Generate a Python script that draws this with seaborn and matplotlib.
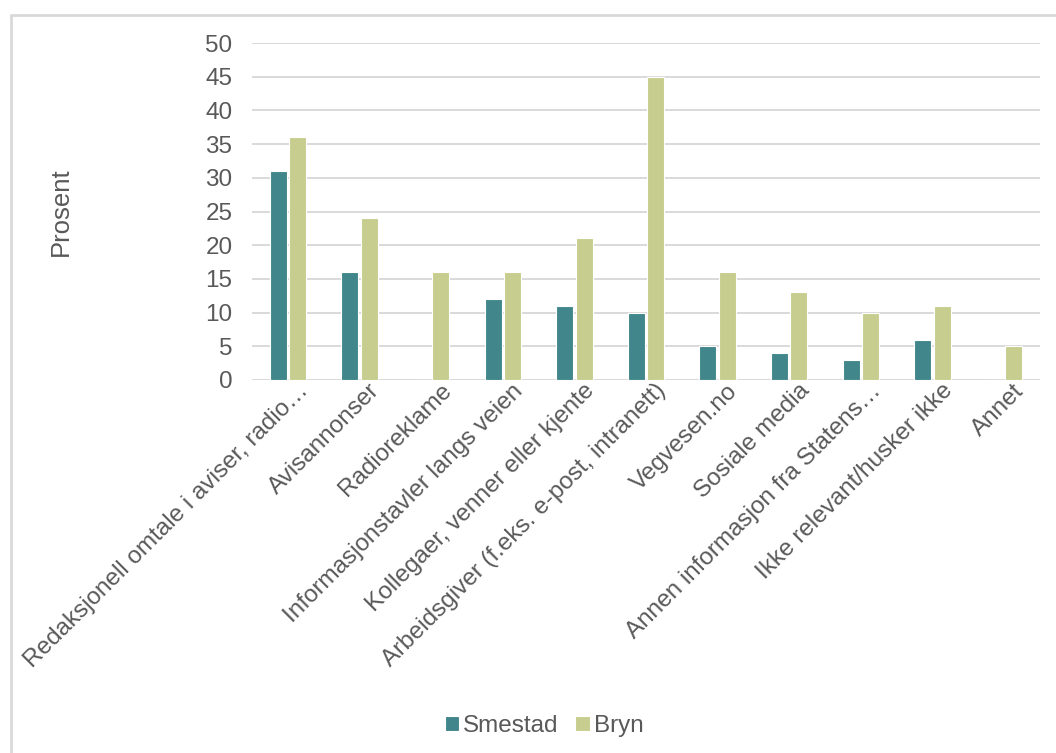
import matplotlib
matplotlib.use("Agg")
import matplotlib.pyplot as plt
import matplotlib.transforms as mtransforms
from matplotlib.lines import Line2D
import seaborn as sns
import pandas as pd

categories = [
    "Redaksjonell omtale i aviser, radio…",
    "Avisannonser",
    "Radioreklame",
    "Informasjonstavler langs veien",
    "Kollegaer, venner eller kjente",
    "Arbeidsgiver (f.eks. e-post, intranett)",
    "Vegvesen.no",
    "Sosiale media",
    "Annen informasjon fra Statens…",
    "Ikke relevant/husker ikke",
    "Annet",
]
smestad = [31, 16, 0, 12, 11, 10, 5, 4, 3, 6, 0]
bryn = [36, 24, 16, 16, 21, 45, 16, 13, 10, 11, 5]
series = ["Smestad", "Bryn"]
yticks = [0, 5, 10, 15, 20, 25, 30, 35, 40, 45, 50]

df = pd.DataFrame({
    "kategori": categories * 2,
    "serie": [series[0]] * len(categories) + [series[1]] * len(categories),
    "prosent": smestad + bryn,
})

sns.set_theme(style="white")
plt.rcParams["font.family"] = ["Liberation Sans", "DejaVu Sans"]
text_color = "#595959"
fs = 17.5

W, H = 1056, 753
fig = plt.figure(figsize=(W / 100, H / 100), dpi=100)
ax = fig.add_axes([252 / W, 1 - 380 / H, (1040 - 252) / W, (380 - 43) / H])

palette = {"Smestad": "#40868A", "Bryn": "#C7CD8E"}
sns.barplot(data=df, x="kategori", y="prosent", hue="serie", palette=palette,
            width=0.54, gap=0.12, edgecolor="white", linewidth=0.8,
            saturation=1, ax=ax, legend=True)

ax.set_ylim(0, 50)
ax.set_yticks(yticks)
ax.set_xlim(-0.5, len(categories) - 0.5)
ax.yaxis.grid(True, color="#D9D9D9", linewidth=1.4)
ax.set_axisbelow(True)
for s in ax.spines.values():
    s.set_visible(False)
ax.tick_params(axis="both", length=0, colors=text_color, labelsize=fs)
ax.tick_params(axis="y", pad=14)
ax.tick_params(axis="x", pad=2)
ax.set_xticks(range(len(categories)))
ax.set_xticklabels(categories, rotation=45, ha="right", rotation_mode="anchor")
shift = mtransforms.ScaledTranslation(9 / 100, 3 / 100, fig.dpi_scale_trans)
for lbl in ax.get_xticklabels():
    lbl.set_transform(lbl.get_transform() + shift)
ax.set_xlabel("")
ax.set_ylabel("Prosent", color=text_color, fontsize=18.5)
ax.yaxis.set_label_coords(-0.227, 0.5)

handles, labels = ax.get_legend_handles_labels()
ax.legend_.remove()
fig.legend(handles, labels, loc="center", bbox_to_anchor=(544 / W, 1 - 726 / H), ncol=2,
           frameon=False, fontsize=fs, handlelength=0.6, handleheight=0.6,
           handletextpad=0.15, columnspacing=0.7, labelcolor=text_color)

# light chart-area frame (top and left edges)
frame_kw = dict(color="#D9D9D9", linewidth=2, transform=fig.transFigure)
fig.add_artist(Line2D([10.5 / W, 1.0], [1 - 14.5 / H, 1 - 14.5 / H], **frame_kw))
fig.add_artist(Line2D([10.5 / W, 10.5 / W], [0.0, 1 - 14.5 / H], **frame_kw))

fig.savefig("out.png", dpi=100)
